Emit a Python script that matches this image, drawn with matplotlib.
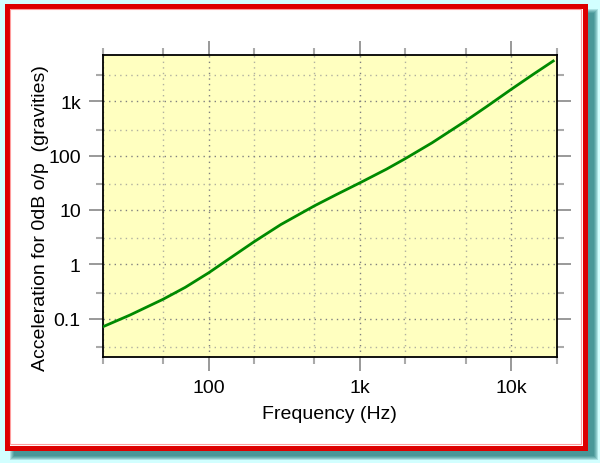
import matplotlib
matplotlib.use("Agg")
import matplotlib.pyplot as plt
from matplotlib.patches import Rectangle
from matplotlib.ticker import FixedLocator, FixedFormatter, NullFormatter

# values
freq_hz = [20, 30, 50, 70, 100, 150, 200, 300, 500, 700, 1000, 1500,
           2000, 3000, 5000, 7000, 10000, 14000, 19000]
accel_g = [0.072, 0.117, 0.23, 0.38, 0.703, 1.52, 2.62, 5.4, 11.9, 19.2,
           31.5, 56.2, 87.9, 171, 430, 815, 1633, 3090, 5430]

x_major = [100, 1000, 10000]
x_major_labels = ["100", "1k", "10k"]
x_minor = [20, 50, 200, 500, 2000, 5000, 20000]
y_major = [0.1, 1, 10, 100, 1000]
y_major_labels = ["0.1", "1", "10", "100", "1k"]
y_minor = [0.03, 0.3, 3, 30, 300, 3000]

W, H = 600, 464
plt.rcParams["font.family"] = ["Liberation Sans", "DejaVu Sans"]

fig = plt.figure(figsize=(W / 100, H / 100), dpi=100)
fig.patch.set_facecolor("#d2ffff")


def px_rect(x0, y0, x1, y1, **kw):
    # rectangle given in pixel coords (origin top left)
    return Rectangle((x0 / W, 1 - y1 / H), (x1 - x0) / W, (y1 - y0) / H,
                     transform=fig.transFigure, **kw)


# soft drop shadow
for i, a in enumerate([0.25, 0.3, 0.35, 0.45, 0.6]):
    fig.patches.append(px_rect(10 + i, 10 + i, 598 - i, 461 - i,
                               facecolor="#3f8f90", edgecolor="none",
                               alpha=a, zorder=-10 + i * 0.1))

# white card with red frame
fig.patches.append(px_rect(6.5, 6.5, 584.5, 448.5, facecolor="white",
                           edgecolor="#dd0000", linewidth=3.6, zorder=-5))
fig.patches.append(px_rect(9.8, 9.8, 581.2, 445.2, facecolor="none",
                           edgecolor="#ff9c9c", linewidth=0.8, zorder=-4))

ax = fig.add_axes([103 / W, 1 - 358 / H, (556.6 - 103) / W, (358 - 56) / H])
ax.set_facecolor("#ffffc0")
ax.set_xscale("log")
ax.set_yscale("log")
ax.set_xlim(20, 20000)
ax.set_ylim(0.02, 7000)

ax.plot(freq_hz, accel_g, color="#008a00", linewidth=2.0, zorder=3,
        solid_joinstyle="round")

ax.xaxis.set_major_locator(FixedLocator(x_major))
ax.xaxis.set_major_formatter(FixedFormatter(x_major_labels))
ax.xaxis.set_minor_locator(FixedLocator(x_minor))
ax.xaxis.set_minor_formatter(NullFormatter())
ax.yaxis.set_major_locator(FixedLocator(y_major))
ax.yaxis.set_major_formatter(FixedFormatter(y_major_labels))
ax.yaxis.set_minor_locator(FixedLocator(y_minor))
ax.yaxis.set_minor_formatter(NullFormatter())

ax.tick_params(which="both", direction="out", top=True, right=True,
               color="#888888", labelsize=14, pad=6)
ax.tick_params(which="major", length=10, width=1.2)
ax.tick_params(which="minor", length=5, width=1.5, color="#aaaaaa")

ax.grid(which="major", color="#808080", linestyle=(0, (1, 3)), linewidth=1)
ax.grid(which="minor", color="#b0b0a0", linestyle=(0, (1, 3)), linewidth=1)

for s in ax.spines.values():
    s.set_color("black")
    s.set_linewidth(1.3)

ax.set_xlabel("Frequency (Hz)", fontsize=14, labelpad=6)
ax.set_ylabel("Acceleration for 0dB o/p  (gravities)", fontsize=14)
ax.yaxis.set_label_coords(-0.118, 0.465)

fig.savefig("out.png", dpi=100, facecolor=fig.get_facecolor())
